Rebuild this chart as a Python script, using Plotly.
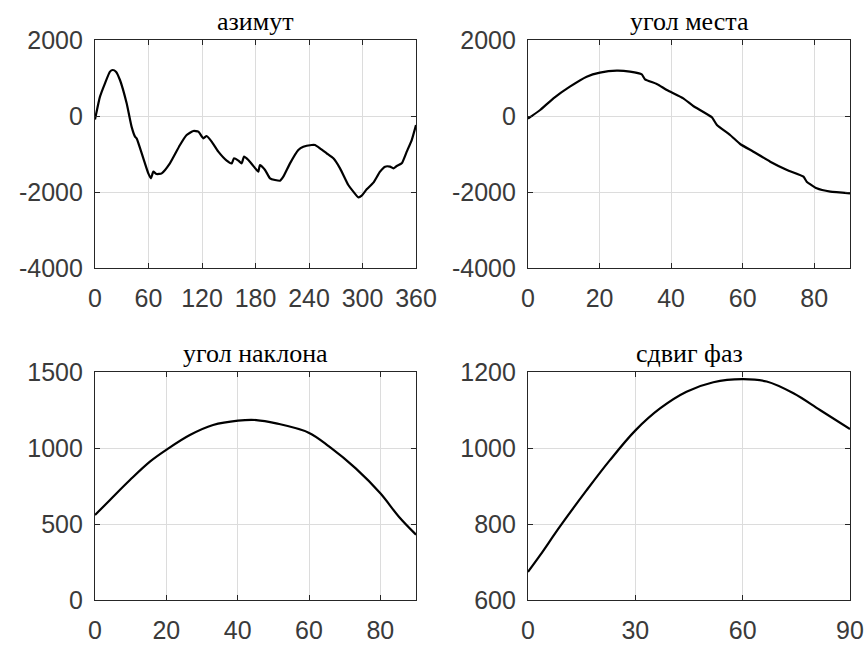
import plotly.graph_objects as go

# ---- data ----
az_x = [0, 5.6, 11.2, 16.8, 19.8, 23.5, 28, 35.5, 41, 44.9, 46.7, 54.2, 59.8, 62.8, 65.4, 69, 74.8, 84,
        95.3, 102.8, 110.3, 115.9, 121.5, 125.2, 130.8, 138.3, 147.7, 153.3, 155.9, 160.8, 164.5, 167.1,
        172, 181.3, 183.2, 185, 190.7, 196.3, 201.9, 207.5, 211.2, 218.7, 228, 233.6, 243, 246.7, 252.3,
        259.8, 267.3, 274.8, 284.1, 289.7, 295.4, 299.1, 304.7, 312.2, 319.7, 325.3, 330.9, 334.6, 338.4,
        344, 349.6, 355.2, 360]
az_y = [-90, 509, 860, 1167, 1210, 1167, 947, 333, -280, -544, -588, -1114, -1509, -1640, -1465, -1526,
        -1509, -1246, -763, -500, -395, -412, -588, -526, -675, -939, -1175, -1246, -1114, -1175, -1246,
        -1070, -1158, -1421, -1465, -1290, -1421, -1640, -1684, -1702, -1597, -1246, -895, -807, -763,
        -763, -851, -983, -1114, -1377, -1816, -1991, -2140, -2096, -1930, -1754, -1465, -1333, -1333,
        -1377, -1316, -1246, -939, -632, -237]

el_x = [0, 3.4, 7.1, 11.7, 16.4, 20.1, 24.8, 28.5, 31.8, 32.7, 36, 38.8, 43.4, 46.2, 51.4, 52.8, 56.5,
        59.3, 63, 67.7, 72.4, 77, 77.9, 80.7, 84.5, 90]
el_y = [-70, 158, 465, 772, 1035, 1140, 1193, 1167, 1096, 965, 842, 684, 465, 263, -35, -237, -500,
        -737, -939, -1202, -1421, -1597, -1728, -1903, -1991, -2035]

tilt_x = [0, 4.2, 9.8, 15.4, 20.2, 26.6, 33.1, 40.1, 45.2, 50.8, 59.9, 65.7, 73.1, 80, 85.2, 90]
tilt_y = [559, 658, 789, 910, 991, 1085, 1151, 1180, 1184, 1162, 1101, 1009, 866, 702, 548, 430]

ph_x = [0, 3.4, 8.9, 16.4, 22.9, 30.1, 36.9, 44.3, 51.8, 59.9, 66.7, 74.2, 81.6, 90]
ph_y = [674, 718, 793, 889, 968, 1047, 1104, 1148, 1173, 1181, 1175, 1144, 1100, 1050]

titles = ["азимут", "угол места", "угол наклона", "сдвиг фаз"]

x1_ticks = [0, 60, 120, 180, 240, 300, 360]
x2_ticks = [0, 20, 40, 60, 80]
x3_ticks = [0, 20, 40, 60, 80]
x4_ticks = [0, 30, 60, 90]
y12_ticks = [-4000, -2000, 0, 2000]
y12_text = ["-4000", "-2000", "0", "2000"]
y3_ticks = [0, 500, 1000, 1500]
y4_ticks = [600, 800, 1000, 1200]

# ---- figure ----
W, H = 868, 646
colx = [(95 / W, 416 / W), (528 / W, 850 / W)]
rowy = [(1 - 268 / H, 1 - 40 / H), (1 - 600 / H, 1 - 372 / H)]

fig = go.Figure()
series = [(az_x, az_y, 0.5), (el_x, el_y, 0.4), (tilt_x, tilt_y, 1.0), (ph_x, ph_y, 1.0)]
for i, (xs, ys, sm) in enumerate(series):
    sfx = "" if i == 0 else str(i + 1)
    fig.add_trace(go.Scatter(x=xs, y=ys, mode="lines",
                             line=dict(color="black", width=2.2, shape="spline", smoothing=sm),
                             xaxis="x" + sfx, yaxis="y" + sfx, showlegend=False))

tick_font = dict(family="Liberation Sans, Arial, sans-serif", size=25, color="#3a3a3a")
common = dict(showgrid=True, gridcolor="#dcdcdc", gridwidth=1, showline=True, linecolor="#262626",
              linewidth=1.2, mirror="ticks", ticks="inside", ticklen=5, tickcolor="#262626",
              tickfont=tick_font, zeroline=False, fixedrange=True, automargin=False)

xcfg = [(x1_ticks, [0, 360]), (x2_ticks, [0, 90]), (x3_ticks, [0, 90]), (x4_ticks, [0, 90])]
ycfg = [(y12_ticks, y12_text, [-4000, 2000]), (y12_ticks, y12_text, [-4000, 2000]),
        (y3_ticks, [str(v) for v in y3_ticks], [0, 1500]), (y4_ticks, [str(v) for v in y4_ticks], [600, 1200])]

layout = dict(width=W, height=H, margin=dict(l=0, r=0, t=0, b=0, autoexpand=False), plot_bgcolor="white",
              paper_bgcolor="white", showlegend=False)
for i in range(4):
    r, c = divmod(i, 2)
    sfx = "" if i == 0 else str(i + 1)
    xt, xr = xcfg[i]
    yt, ytx, yr = ycfg[i]
    layout["xaxis" + sfx] = dict(common, domain=list(colx[c]), range=xr, tickmode="array", tickvals=xt,
                                 ticktext=[str(v) for v in xt], anchor="y" + sfx, ticklabelstandoff=8)
    layout["yaxis" + sfx] = dict(common, domain=list(rowy[r]), range=yr, tickmode="array", tickvals=yt,
                                 ticktext=ytx, anchor="x" + sfx, ticklabelstandoff=6)
fig.update_layout(**layout)

for i, t in enumerate(titles):
    r, c = divmod(i, 2)
    fig.add_annotation(text=t, xref="paper", yref="paper", x=(colx[c][0] + colx[c][1]) / 2,
                       y=rowy[r][1], xanchor="center", yanchor="bottom", yshift=2, showarrow=False,
                       font=dict(family="Liberation Serif, Times New Roman, serif", size=26, color="black"))

fig.write_html("out.html", config={"displayModeBar": False},
               post_script="document.body.style.margin='0';document.body.style.overflow='hidden';")
